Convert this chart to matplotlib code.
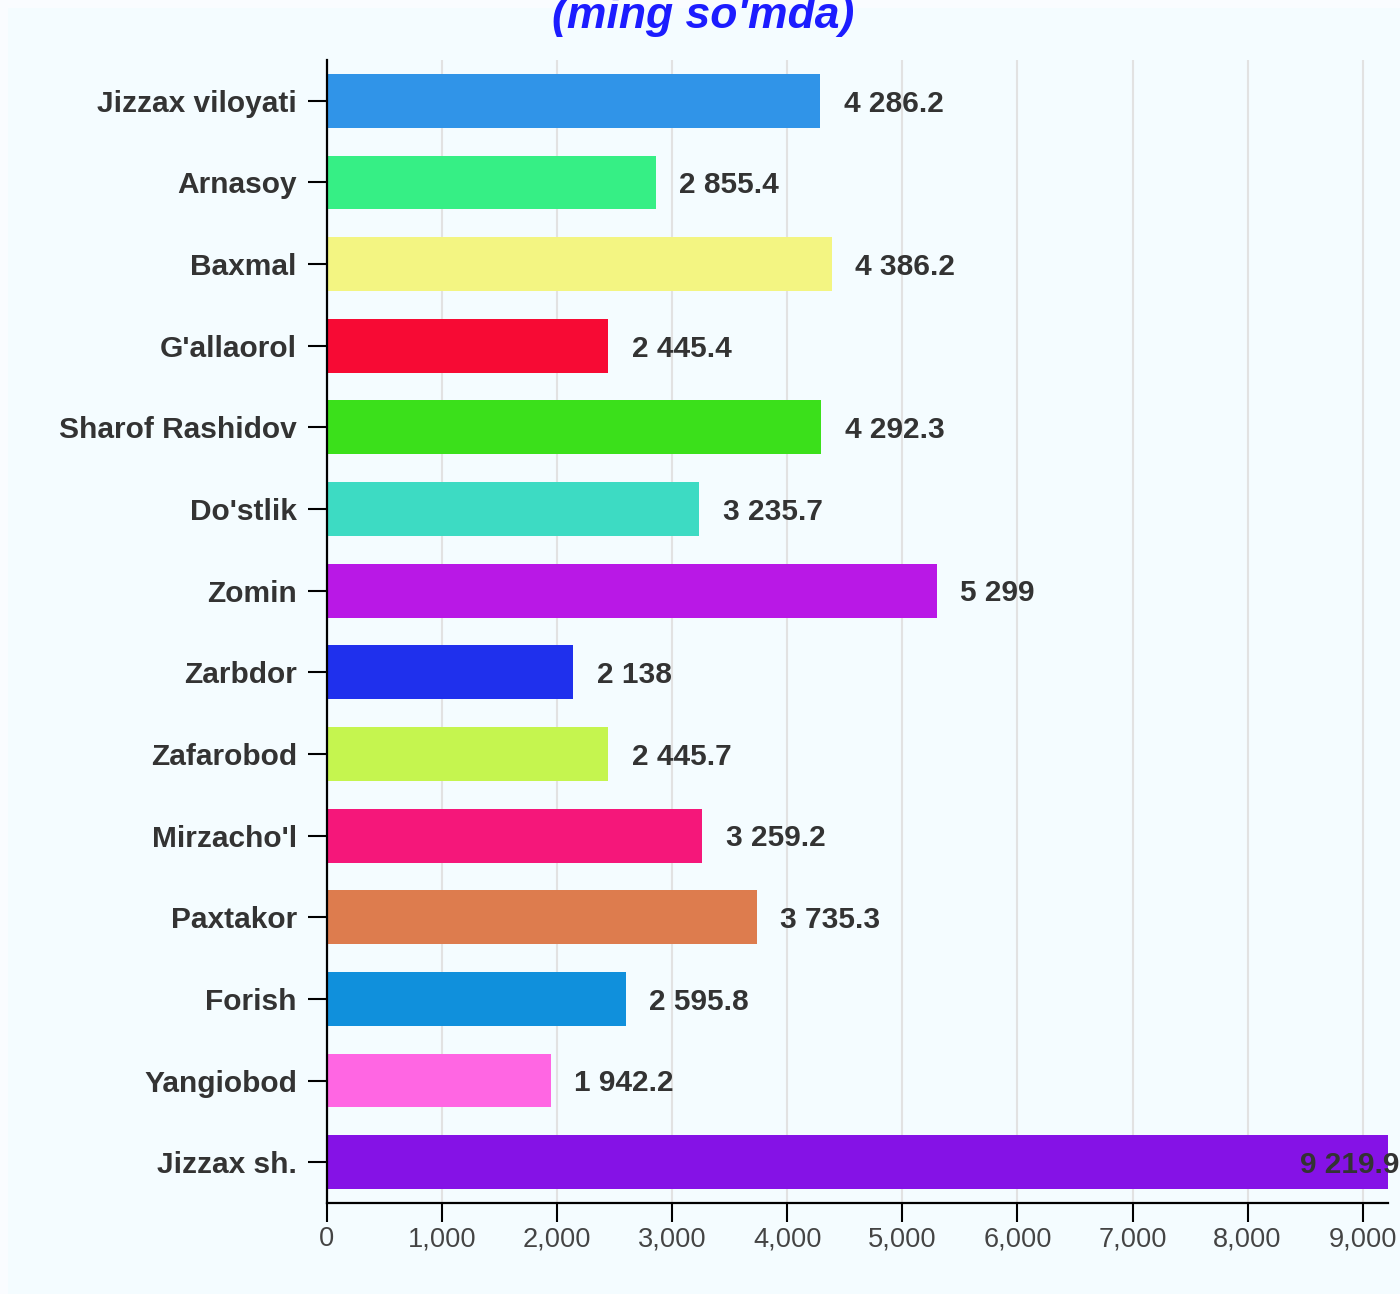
import matplotlib
matplotlib.use("Agg")
import matplotlib.pyplot as plt
from matplotlib.patches import Rectangle

categories = ["Jizzax viloyati", "Arnasoy", "Baxmal", "G'allaorol", "Sharof Rashidov",
              "Do'stlik", "Zomin", "Zarbdor", "Zafarobod", "Mirzacho'l", "Paxtakor",
              "Forish", "Yangiobod", "Jizzax sh."]
values = [4286.2, 2855.4, 4386.2, 2445.4, 4292.3, 3235.7, 5299, 2138, 2445.7,
          3259.2, 3735.3, 2595.8, 1942.2, 9219.9]
value_labels = ["4 286.2", "2 855.4", "4 386.2", "2 445.4", "4 292.3", "3 235.7", "5 299",
                "2 138", "2 445.7", "3 259.2", "3 735.3", "2 595.8", "1 942.2", "9 219.9"]
colors = ["#3094e8", "#36ef85", "#f3f582", "#f70a34", "#3be01b", "#3ddbc3", "#b918e6",
          "#1f30ed", "#c5f54f", "#f5177a", "#dd7c4e", "#1090dc", "#ff66e3", "#8512e6"]
xticks = [0, 1000, 2000, 3000, 4000, 5000, 6000, 7000, 8000, 9000]
xtick_labels = ["0", "1,000", "2,000", "3,000", "4,000", "5,000", "6,000", "7,000", "8,000", "9,000"]
title = "(ming so'mda)"

plt.rcParams['font.family'] = ['Liberation Sans', 'DejaVu Sans']

W, H = 1400, 1294
fig = plt.figure(figsize=(W / 100, H / 100), dpi=100, facecolor="#fafcff")
fig.patches.append(Rectangle((8 / W, 0), 1 - 8 / W, 1 - 8 / H, transform=fig.transFigure,
                             facecolor="#f4fcff", edgecolor="none", zorder=-5))

ax = fig.add_axes([327 / W, 1 - 1203 / H, (1388 - 327) / W, (1203 - 60) / H])
ax.set_facecolor("none")
ax.set_zorder(2)

y = list(range(len(categories)))
ax.barh(y, values, height=0.66, color=colors, zorder=2)
ax.set_ylim(len(categories) - 0.5, -0.5)
xmax = max(values)
ax.set_xlim(0, xmax)

ax.set_yticks(y)
ax.set_yticklabels(categories, fontsize=21.5, fontweight="bold", color="#333333")
ax.set_xticks(xticks)
ax.set_xticklabels(xtick_labels, fontsize=19.6, color="#444444")
ax.tick_params(axis="y", length=13.7, width=1.5, pad=8)
ax.tick_params(axis="x", length=13.7, width=1.5, pad=3)

for s in ["top", "right"]:
    ax.spines[s].set_visible(False)
for s in ["left", "bottom"]:
    ax.spines[s].set_linewidth(1.6)
    ax.spines[s].set_color("black")
    ax.spines[s].set_zorder(3)

ax.grid(axis="x", color="#e2e2e2", linewidth=1.5, zorder=0)
ax.set_axisbelow(True)

for yi, v, lab in zip(y, values, value_labels):
    if v > 0.9 * xmax:
        ax.annotate(lab, (v, yi), xytext=(8, -2), textcoords="offset points",
                    ha="right", va="center", fontsize=21.5, fontweight="bold",
                    color="#333333", zorder=4, annotation_clip=False)
    else:
        ax.annotate(lab, (v, yi), xytext=(17, -2), textcoords="offset points",
                    ha="left", va="center", fontsize=21.5, fontweight="bold",
                    color="#333333", zorder=4)

fig.text(703 / W, 1 - 28 / H, title, ha="center", va="baseline", fontsize=32,
         fontweight="bold", fontstyle="italic", color="#1c1cff")

fig.savefig("out.png", dpi=100, facecolor=fig.get_facecolor())
